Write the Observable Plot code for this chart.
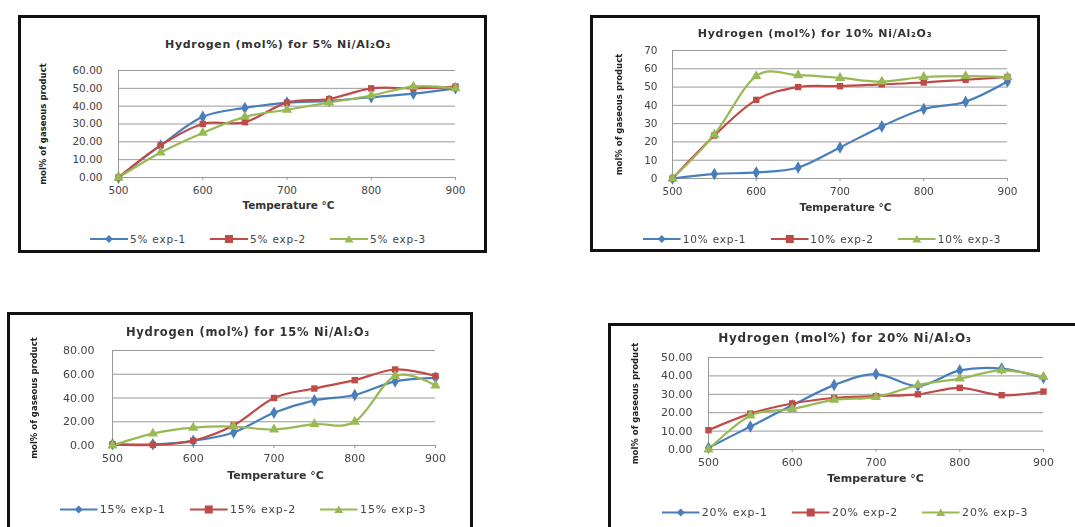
<!DOCTYPE html>
<html><head><meta charset="utf-8">
<script src="https://cdn.jsdelivr.net/npm/d3@7"></script>
<script src="https://cdn.jsdelivr.net/npm/@observablehq/plot@0.6"></script>
<style>
html,body{margin:0;padding:0;background:#fff;}
body{width:1075px;height:527px;overflow:hidden;position:relative;font-family:"DejaVu Sans",sans-serif;color:#222;}
#root{position:absolute;left:0;top:0;width:1075px;height:527px;filter:blur(0.35px);}
.box{position:absolute;border:3px solid #111;box-sizing:border-box;background:#fff;}
.title{position:absolute;font-weight:bold;transform:translate(-50%,-50%);white-space:nowrap;color:#333;}
.legend{position:absolute;display:flex;gap:24px;transform:translate(-50%,-50%);white-space:nowrap;align-items:center;color:#444;}
.legend .it{display:flex;align-items:center;gap:2px;}
</style></head><body><div id="root"></div>
<script>
// ---- data ----
const temps = [500, 550, 600, 650, 700, 750, 800, 850, 900];
const xTicks = [500, 600, 700, 800, 900];

const h5_exp1 = [0, 18, 34, 39, 42, 43, 45, 47, 50];
const h5_exp2 = [0, 18, 30, 31, 42, 44, 50, 50, 51];
const h5_exp3 = [0, 14, 25, 34, 38, 42, 46, 51, 50];
const names5 = ["5% exp-1", "5% exp-2", "5% exp-3"];
const yTicks5 = [0, 10, 20, 30, 40, 50, 60];

const h10_exp1 = [0, 2.5, 3.3, 6, 17, 28.5, 38, 42, 53];
const h10_exp2 = [0, 23.5, 43, 50, 50.5, 51.5, 52.5, 54, 55.5];
const h10_exp3 = [0, 24, 56, 56.5, 55, 53, 55.5, 56, 55.5];
const names10 = ["10% exp-1", "10% exp-2", "10% exp-3"];
const yTicks10 = [0, 10, 20, 30, 40, 50, 60, 70];

const h15_exp1 = [1, 1, 4, 11, 27.5, 38, 42.5, 54, 57];
const h15_exp2 = [1, 0.5, 4, 17, 40, 48, 55, 64, 58.5];
const h15_exp3 = [0, 10, 15, 16, 13.5, 18, 20, 58.5, 50.5];
const names15 = ["15% exp-1", "15% exp-2", "15% exp-3"];
const yTicks15 = [0, 20, 40, 60, 80];

const h20_exp1 = [1, 12.5, 24, 35, 41, 34.5, 43, 44, 39];
const h20_exp2 = [10.5, 19.5, 25, 28, 29, 30, 33.5, 29.5, 31.5];
const h20_exp3 = [0, 18.5, 22, 27, 28.5, 35, 38.5, 43, 39.5];
const names20 = ["20% exp-1", "20% exp-2", "20% exp-3"];
const yTicks20 = [0, 10, 20, 30, 40, 50];

const titles = [
  "Hydrogen (mol%) for 5% Ni/Al₂O₃",
  "Hydrogen (mol%) for 10% Ni/Al₂O₃",
  "Hydrogen (mol%) for 15% Ni/Al₂O₃",
  "Hydrogen (mol%) for 20% Ni/Al₂O₃"
];
const xLabel = "Temperature °C";
const yLabel = "mol% of gaseous product";

// ---- styles ----
const colors = ["#4A7EBB", "#BE4B48", "#98B954"];
const symbols = ["diamond", "square", "triangle"];

const panels = [
  {title: titles[0], names: names5, values: [h5_exp1, h5_exp2, h5_exp3], yTicks: yTicks5, fmt: d3.format(".2f"),
   box: [18, 15, 487, 253], x0: 118, x1: 455, yTop: 70, yBot: 177, titleX: 278, titleY: 44, titleFs: 11, tickRight: 102, ylabX: 43, xlabY: 208, xlabX: 288, legX: 258, legY: 239, fs: 10.5},
  {title: titles[1], names: names10, values: [h10_exp1, h10_exp2, h10_exp3], yTicks: yTicks10, fmt: d3.format("d"),
   box: [590, 15, 1040, 252], x0: 672, x1: 1007, yTop: 50, yBot: 178, titleX: 815, titleY: 33, titleFs: 11, tickRight: 657, ylabX: 619, xlabY: 210, xlabX: 845, legX: 822, legY: 239, fs: 10.5},
  {title: titles[2], names: names15, values: [h15_exp1, h15_exp2, h15_exp3], yTicks: yTicks15, fmt: d3.format(".2f"),
   box: [7, 312, 473, 545], x0: 112, x1: 435, yTop: 350, yBot: 445, titleX: 248, titleY: 332, titleFs: 11.5, tickRight: 94, ylabX: 34, xlabY: 478, xlabX: 275, legX: 243, legY: 509, fs: 11},
  {title: titles[3], names: names20, values: [h20_exp1, h20_exp2, h20_exp3], yTicks: yTicks20, fmt: d3.format(".2f"),
   box: [608, 323, 1095, 545], x0: 708, x1: 1043, yTop: 357, yBot: 449, titleX: 845, titleY: 338, titleFs: 12, tickRight: 692, ylabX: 635, xlabY: 481, xlabX: 875, legX: 845, legY: 512, fs: 11}
];

const root = document.getElementById("root");

function legendSwatch(i) {
  const c = colors[i];
  let m;
  if (i === 0) m = `<path d="M19,1 L23,5 L19,9 L15,5 Z" fill="${c}"/>`;
  else if (i === 1) m = `<rect x="15" y="1" width="8" height="8" fill="${c}"/>`;
  else m = `<path d="M19,1 L23.5,8.5 L14.5,8.5 Z" fill="${c}"/>`;
  return `<svg width="38" height="10"><line x1="0" y1="5" x2="38" y2="5" stroke="${c}" stroke-width="2.2"/>${m}</svg>`;
}

panels.forEach(p => {
  const [bl, bt, br, bb] = p.box;
  const box = document.createElement("div");
  box.className = "box";
  Object.assign(box.style, {left: bl + "px", top: bt + "px", width: (br - bl) + "px", height: (bb - bt) + "px"});
  root.appendChild(box);

  const sl = bl + 3, st = bt + 3, sw = br - bl - 6, sh = bb - bt - 6;
  const data = [];
  p.values.forEach((vals, i) => vals.forEach((v, j) => data.push({t: temps[j], v, s: p.names[i]})));
  const plotMid = (p.x0 + p.x1) / 2;

  const marks = [
    Plot.gridY(p.yTicks, {stroke: "#999", strokeOpacity: 1, strokeWidth: 1}),
    Plot.ruleX([500], {stroke: "#999"}),
    Plot.ruleY([0], {stroke: "#999"}),
    Plot.axisY(p.yTicks, {tickSize: 0, tickPadding: p.x0 - p.tickRight, tickFormat: p.fmt, label: null, fill: "#444", fontSize: p.fs, letterSpacing: "0.9px"}),
    Plot.axisX(xTicks, {tickSize: 3, tickPadding: 6, tickFormat: d => String(d), label: null, stroke: "#999", fill: "#444", fontSize: p.fs, letterSpacing: "0.9px"}),
    Plot.text([yLabel], {frameAnchor: "left", dx: -(p.x0 - p.ylabX), rotate: -90, textAnchor: "middle", fontSize: 8.5, fill: "#222", fontWeight: 600}),
    Plot.text([xLabel], {frameAnchor: "bottom", dx: p.xlabX - plotMid, dy: p.xlabY - p.yBot, textAnchor: "middle", fontWeight: "bold", fontSize: p.fs, fill: "#333", letterSpacing: "0.6px"})
  ];
  p.names.forEach((n, i) => {
    const sd = data.filter(d => d.s === n);
    marks.push(Plot.line(sd, {x: "t", y: "v", stroke: colors[i], strokeWidth: 2.2, curve: "cardinal"}));
  });
  p.names.forEach((n, i) => {
    const sd = data.filter(d => d.s === n);
    marks.push(Plot.dot(sd, {x: "t", y: "v", symbol: symbols[i], fill: colors[i], r: i === 1 ? 3.6 : 3.8, stroke: "none"}));
  });

  const svg = Plot.plot({
    width: sw, height: sh,
    marginLeft: p.x0 - sl, marginRight: sl + sw - p.x1,
    marginTop: p.yTop - st, marginBottom: st + sh - p.yBot,
    x: {domain: [500, 900], label: null},
    y: {domain: [0, p.yTicks[p.yTicks.length - 1]], label: null},
    style: {fontFamily: "DejaVu Sans, sans-serif", fontSize: "10px", background: "transparent", overflow: "visible"},
    marks
  });
  svg.style.position = "absolute";
  svg.style.left = sl + "px";
  svg.style.top = st + "px";
  root.appendChild(svg);

  const t = document.createElement("div");
  t.className = "title";
  t.textContent = p.title;
  Object.assign(t.style, {left: p.titleX + "px", top: p.titleY + "px", fontSize: p.titleFs + "px", letterSpacing: "0.7px"});
  root.appendChild(t);

  const lg = document.createElement("div");
  lg.className = "legend";
  lg.innerHTML = p.names.map((n, i) => `<div class="it">${legendSwatch(i)}<span>${n}</span></div>`).join("");
  Object.assign(lg.style, {left: p.legX + "px", top: p.legY + "px", fontSize: p.fs + "px", letterSpacing: "0.8px"});
  root.appendChild(lg);
});
</script>
</body></html>
